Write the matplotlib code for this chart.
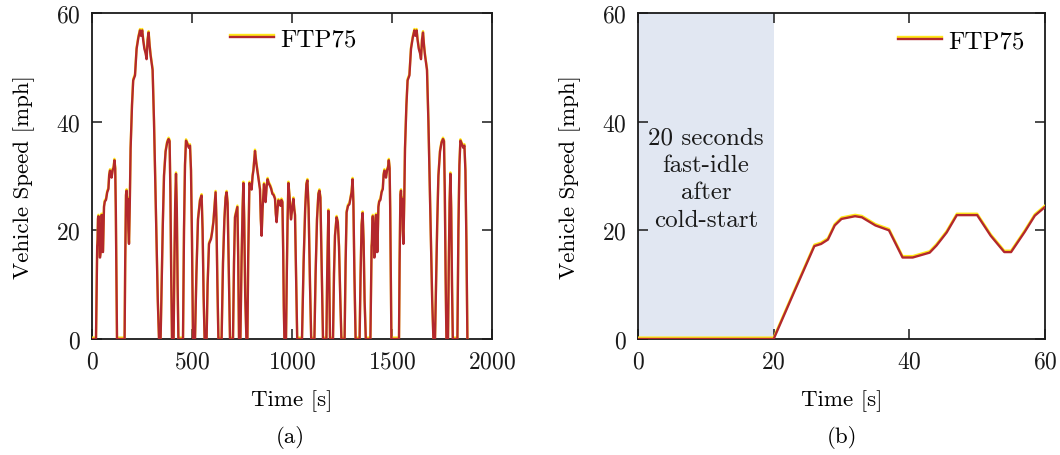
import matplotlib
matplotlib.use("Agg")
import matplotlib.pyplot as plt
import matplotlib.patheffects as pe

plt.rcParams['font.family'] = ['cmr10', 'DejaVu Serif']
plt.rcParams['axes.formatter.use_mathtext'] = True
plt.rcParams['mathtext.fontset'] = 'cm'

# ---- FTP75 speed trace ----
# Phase 1: cold start (0-505 s)
cold_t = [0, 20, 23, 26, 27, 28, 29, 30, 32, 33, 35, 37, 39, 40.5, 43, 44, 45.5, 47, 50, 52,
          54, 55, 57, 58.5, 60, 64, 70, 76, 82, 86, 90, 95, 98, 104, 108, 112, 116, 119, 122, 125,
          163, 166, 170, 173, 176, 179, 182, 185, 189, 193, 200, 206, 215, 223, 232, 240, 245, 251, 256, 262,
          268, 273, 278, 283, 288, 293, 303, 310, 318, 323, 329, 335, 343, 348, 354, 360, 368, 376, 383, 388,
          392, 396, 400, 408, 412, 416, 420, 424, 428, 432, 455, 460, 465, 470, 476, 484, 490, 495, 500, 505]
cold_v = [0, 0, 8.6, 17.1, 17.5, 18.3, 20.9, 22.1, 22.6, 22.4, 20.9, 20.0, 15.0, 15.0, 15.9, 17.2, 19.6, 22.8, 22.8, 19.0,
          16.0, 16.0, 19.7, 22.7, 24.3, 25.3, 25.6, 27.0, 27.6, 30.2, 31.0, 30.5, 29.7, 31.2, 31.5, 32.9, 31.4, 24, 12, 0,
          0, 14, 26.5, 27.3, 24, 25.8, 20, 17.5, 25, 35, 43, 47.6, 48.5, 53.4, 55.5, 56.8, 55.8, 56.8, 55.0, 53.4,
          52.6, 51.5, 55.0, 56.4, 54.0, 52.2, 49.5, 40, 26, 17.8, 7, 0, 0, 10, 21, 30, 34.5, 36.2, 36.8, 36.4,
          27, 12, 0, 0, 14, 25, 30.4, 24, 10, 0, 0, 20, 32, 36.5, 36.0, 35.2, 35.6, 31, 18, 0]

# Phase 2: stabilized (505-1369 s)
stab_t = [505, 515, 522, 530, 540, 548, 553, 558, 563, 573, 578, 585, 595, 600, 607, 613, 618, 622, 627, 632,
          648, 655, 662, 668, 673, 678, 684, 690, 705, 710, 715, 720, 727, 731, 735, 742, 748, 753, 757, 761,
          766, 772, 777, 781, 787, 793, 798, 803, 807, 815, 821, 828, 835, 840, 844, 848, 853, 860, 864, 868,
          873, 878, 884, 890, 896, 902, 908, 915, 919, 923, 928, 932, 937, 943, 947, 952, 956, 959, 962, 970,
          974, 978, 982, 988, 995, 1001, 1007, 1011, 1015, 1020, 1026, 1050, 1058, 1066, 1072, 1077, 1083, 1090, 1096, 1112,
          1118, 1125, 1132, 1137, 1142, 1148, 1155, 1172, 1176, 1182, 1186, 1190, 1205, 1210, 1215, 1223, 1229, 1235, 1241, 1247,
          1263, 1268, 1273, 1280, 1287, 1292, 1298, 1303, 1307, 1312, 1318, 1338, 1343, 1348, 1353, 1358, 1363, 1369]
stab_v = [0, 0, 12, 22, 25.5, 26.4, 20, 8, 0, 0, 10, 17.5, 18.4, 19.5, 21.5, 24.5, 27, 22, 10, 0,
          0, 14, 22, 26, 27, 25, 12, 0, 0, 14, 22.4, 23.2, 24.3, 15, 0, 0, 15, 24, 28.7, 22,
          8, 0, 0, 15, 28.7, 28, 27.5, 30, 31, 34.6, 32.5, 30.7, 29, 27.5, 22, 19, 24, 28.5, 26, 25.2,
          28, 29.4, 28.6, 28.2, 27.6, 26.7, 26.5, 25.8, 23, 21.5, 24, 25.5, 25, 24.5, 25.6, 25.2, 16, 6, 0, 0,
          12, 22, 28.7, 26, 22, 24, 25.8, 24, 22.8, 12, 0, 0, 14, 24, 28.5, 29.2, 24, 10, 0, 0,
          12, 22, 26.7, 27.3, 26, 14, 0, 0, 12, 23.6, 12, 0, 0, 12, 19, 22.4, 21.5, 17, 8, 0,
          0, 14, 23.3, 24.5, 24.8, 25.8, 27, 29.4, 25, 12, 0, 0, 12, 21, 23.2, 18, 7, 0]

# Phase 3: hot start (1372-1877 s)
hot_t = [1372, 1392, 1395, 1398, 1399, 1400, 1401, 1402, 1404, 1405, 1407, 1409, 1411, 1412.5, 1415, 1416, 1417.5, 1419, 1422, 1424,
         1426, 1427, 1429, 1430.5, 1432, 1436, 1442, 1448, 1454, 1458, 1462, 1467, 1470, 1476, 1480, 1484, 1488, 1491, 1494, 1497,
         1535, 1538, 1542, 1545, 1548, 1551, 1554, 1557, 1561, 1565, 1572, 1578, 1587, 1595, 1604, 1612, 1617, 1623, 1628, 1634,
         1640, 1645, 1650, 1655, 1660, 1665, 1675, 1682, 1690, 1695, 1701, 1707, 1715, 1720, 1726, 1732, 1740, 1748, 1755, 1760,
         1764, 1768, 1772, 1780, 1784, 1788, 1792, 1796, 1800, 1804, 1827, 1832, 1837, 1842, 1848, 1856, 1862, 1867, 1872, 1877]
hot_v = [0, 0, 8.6, 17.1, 17.5, 18.3, 20.9, 22.1, 22.6, 22.4, 20.9, 20.0, 15.0, 15.0, 15.9, 17.2, 19.6, 22.8, 22.8, 19.0,
         16.0, 16.0, 19.7, 22.7, 24.3, 25.3, 25.6, 27.0, 27.6, 30.2, 31.0, 30.5, 29.7, 31.2, 31.5, 32.9, 31.4, 24, 12, 0,
         0, 14, 26.5, 27.3, 24, 25.8, 20, 17.5, 25, 35, 43, 47.6, 48.5, 53.4, 55.5, 56.8, 55.8, 56.8, 55.0, 53.4,
         52.6, 51.5, 55.0, 56.4, 54.0, 52.2, 49.5, 40, 26, 17.8, 7, 0, 0, 10, 21, 30, 34.5, 36.2, 36.8, 36.4,
         27, 12, 0, 0, 14, 25, 30.4, 24, 10, 0, 0, 20, 32, 36.5, 36.0, 35.2, 35.6, 31, 18, 0]

time_s = cold_t + stab_t + hot_t
speed_mph = cold_v + stab_v + hot_v

left_xticks = [0, 500, 1000, 1500, 2000]
right_xticks = [0, 20, 40, 60]
yticks = [0, 20, 40, 60]
series_label = "FTP75"
idle_end = 20
idle_text = "20 seconds\nfast-idle\nafter\ncold-start"

RED = '#b3282c'
YEL = '#ffe81a'
FS = 17
FS_LAB = 16.5

fig = plt.figure(figsize=(10.6, 4.56), dpi=100)
W, H = 1060, 456
axL = fig.add_axes([92 / W, 1 - 340 / H, 400 / W, 326 / H])
axR = fig.add_axes([638 / W, 1 - 340 / H, 407 / W, 326 / H])

effects = [pe.SimpleLineShadow(offset=(0, 1.0), shadow_color=YEL, alpha=1.0), pe.Normal()]

legend_anchor = {axL: ((230 - 92) / 400, (340 - 40) / 326),
                 axR: ((898 - 638) / 407, (340 - 42) / 326)}

for ax, xt, xl in [(axL, left_xticks, (0, 2000)), (axR, right_xticks, (0, 60))]:
    ax.plot(time_s, speed_mph, color=RED, lw=1.7, label=series_label,
            path_effects=effects, zorder=3)
    ax.set_xlim(*xl)
    ax.set_ylim(0, 60)
    ax.set_xticks(xt)
    ax.set_yticks(yticks)
    ax.tick_params(direction='in', top=True, right=True, length=7, width=1.1,
                   labelsize=FS, pad=8, colors='#1a1a1a')
    for s in ax.spines.values():
        s.set_linewidth(1.3)
        s.set_color('#1a1a1a')
    ax.set_xlabel("Time [s]", fontsize=FS_LAB, labelpad=12)
    ax.set_ylabel("Vehicle Speed [mph]", fontsize=FS_LAB, labelpad=15)
    ax.legend(loc='center left', bbox_to_anchor=legend_anchor[ax], frameon=False,
              fontsize=18, handlelength=1.75, handletextpad=0.25,
              borderaxespad=0, borderpad=0)

axR.axvspan(0, idle_end, color='#e1e7f2', zorder=0, lw=0)
axR.text(idle_end / 2, 29.5, idle_text, ha='center', va='center', fontsize=18,
         linespacing=1.3, color='#1a1a1a', zorder=4)

fig.text(290 / W, 1 - 438 / H, "(a)", ha='center', va='center', fontsize=FS_LAB)
fig.text(842 / W, 1 - 438 / H, "(b)", ha='center', va='center', fontsize=FS_LAB)

fig.savefig("out.png", dpi=100)
